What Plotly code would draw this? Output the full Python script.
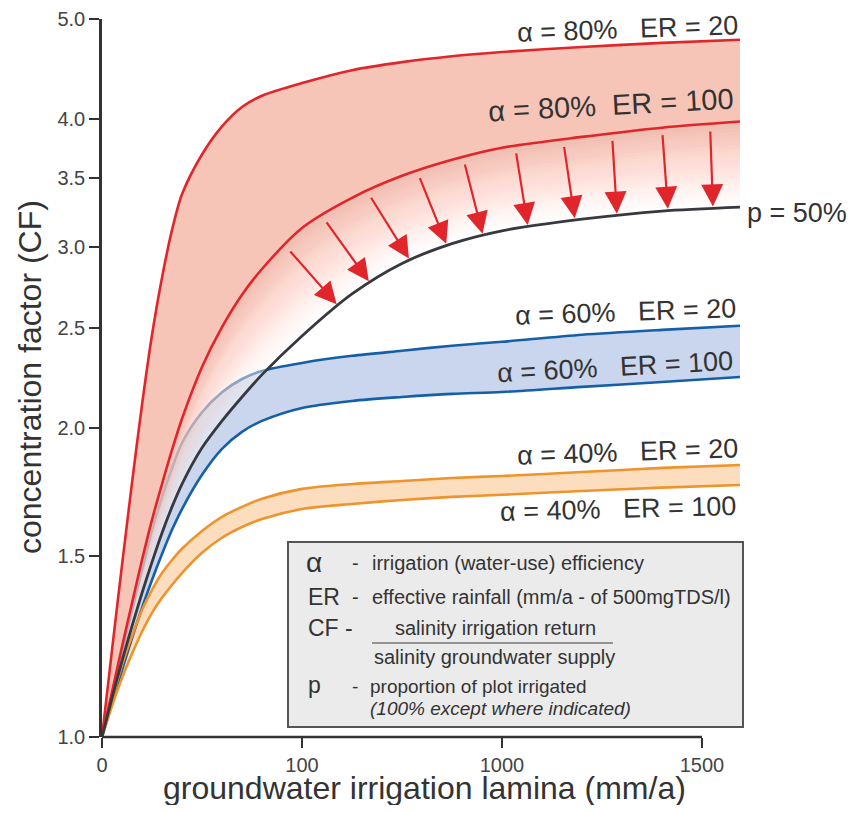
import numpy as np
import plotly.graph_objects as go

# ---------------- data ----------------
# Positions along the (non-uniform) irrigation-lamina axis, in tick-index units:
# 0 -> 0 mm/a, 1 -> 100 mm/a, 2 -> 1000 mm/a, 3 -> 1500 mm/a
X_POS = [0, 0.05, 0.1, 0.15, 0.2, 0.25, 0.3, 0.35, 0.4, 0.5, 0.6, 0.7, 0.8,
         1.0, 1.25, 1.5, 1.75, 2.0, 2.4, 2.8, 3.19]
X_TICK_POS = [0, 1, 2, 3]
X_TICK_TEXT = ["0", "100", "1000", "1500"]
Y_TICKS = [1.0, 1.5, 2.0, 2.5, 3.0, 3.5, 4.0, 5.0]
Y_TICK_TEXT = ["1.0", "1.5", "2.0", "2.5", "3.0", "3.5", "4.0", "5.0"]

# concentration factor (CF) curves
CF_A80_ER20 = [1.0, 1.215, 1.47, 1.767, 2.105, 2.462, 2.80, 3.115, 3.375, 3.69, 3.93,
               4.105, 4.21, 4.331, 4.458, 4.539, 4.60, 4.643, 4.696, 4.739, 4.772]
CF_A80_ER100 = [1.0, 1.106, 1.224, 1.35, 1.487, 1.627, 1.763, 1.903, 2.041, 2.292, 2.506,
                2.695, 2.855, 3.13, 3.349, 3.518, 3.647, 3.747, 3.839, 3.919, 3.973]
CF_P50 = [1.0, 1.091, 1.186, 1.282, 1.381, 1.48, 1.58, 1.675, 1.763, 1.912, 2.031,
          2.143, 2.253, 2.457, 2.70, 2.891, 3.022, 3.11, 3.192, 3.251, 3.28]
CF_A60_ER20 = [1.0, 1.099, 1.21, 1.329, 1.454, 1.591, 1.713, 1.828, 1.934, 2.071, 2.166,
               2.231, 2.272, 2.313, 2.35, 2.377, 2.404, 2.425, 2.464, 2.491, 2.514]
CF_A60_ER100 = [1.0, 1.079, 1.162, 1.248, 1.335, 1.422, 1.507, 1.591, 1.667, 1.80, 1.908,
                1.982, 2.031, 2.091, 2.124, 2.143, 2.158, 2.167, 2.192, 2.216, 2.241]
CF_A40_ER20 = [1.0, 1.087, 1.175, 1.254, 1.329, 1.391, 1.444, 1.487, 1.525, 1.587, 1.638,
               1.675, 1.706, 1.744, 1.763, 1.775, 1.787, 1.795, 1.811, 1.828, 1.84]
CF_A40_ER100 = [1.0, 1.072, 1.141, 1.205, 1.266, 1.321, 1.366, 1.406, 1.444, 1.511, 1.563,
                1.601, 1.63, 1.667, 1.686, 1.701, 1.713, 1.721, 1.736, 1.749, 1.759]

# arrows from the alpha 80% / ER 100 curve down to the p = 50% curve
ARROW_TAIL_X = [0.915, 1.10, 1.325, 1.575, 1.805, 2.065, 2.305, 2.55, 2.80, 3.04]
ARROW_TIP_X = [1.18, 1.34, 1.54, 1.725, 1.905, 2.13, 2.365, 2.575, 2.83, 3.055]

# ---------------- styling ----------------
PAGE_PAD = 8                      # default <body> margin of the written page
FIG_W, FIG_H = 860 - 2 * PAGE_PAD, 813 - 2 * PAGE_PAD
# plot area in screenshot pixels
L, R, T, B = 102, 760, 19, 737
FONT = "Liberation Sans, Arial, sans-serif"
TXT = "#333333"
RED = "#E0262B"
BLUE = "#155FA8"
ORANGE = "#EF942C"
DARK = "#38383F"
RED_FILL = "rgb(247,197,184)"
BLUE_FILL = "rgb(201,214,237)"
ORANGE_FILL = "rgb(252,221,190)"
SMOOTH = 0.8


def P(px, py):
    return (px - L) / (R - L), (B - py) / (B - T)


def ln(y, color=None, width=0.0, fill=None, fillcolor=None):
    kw = dict(x=X_POS, y=y, mode="lines", hoverinfo="skip", showlegend=False,
              line=dict(color=color or "rgba(0,0,0,0)", width=width,
                        shape="spline", smoothing=SMOOTH))
    if fill:
        kw["fill"] = fill
        kw["fillcolor"] = fillcolor
    return go.Scatter(**kw)


traces = []
# red band
traces += [ln(CF_A80_ER100), ln(CF_A80_ER20, fill="tonexty", fillcolor=RED_FILL)]
# orange band
traces += [ln(CF_A40_ER100), ln(CF_A40_ER20, fill="tonexty", fillcolor=ORANGE_FILL)]
# blue band
traces += [ln(CF_A60_ER100), ln(CF_A60_ER20, fill="tonexty", fillcolor=BLUE_FILL)]
traces += [ln(CF_A60_ER20, BLUE, 2.6), ln(CF_A60_ER100, BLUE, 2.6)]

# translucent pink gradient from the alpha=80%/ER=100 curve down to the p=50% curve
lr = np.log10(np.array(CF_A80_ER100))
lk = np.log10(np.array(CF_P50))


def blend(t):
    return list(10 ** ((1 - t) * lr + t * lk))


traces += [ln(CF_A80_ER100), ln(CF_P50, fill="tonexty", fillcolor="rgba(255,255,255,0.42)")]
N = 26


def opacity(t):
    return 0.95 * max(0.0, 1 - t) ** 1.15


Tm = [1 - opacity((j - 0.5) / N) for j in range(1, N + 1)] + [1.0]
for j in range(1, N + 1):
    a = 1 - Tm[j - 1] / Tm[j]
    traces += [ln(CF_A80_ER100),
               ln(blend(j / N), fill="tonexty", fillcolor="rgba(247,192,178,%.4f)" % a)]

traces += [ln(CF_A40_ER20, ORANGE, 2.6), ln(CF_A40_ER100, ORANGE, 2.6)]
traces += [ln(CF_A80_ER20, RED, 2.6), ln(CF_A80_ER100, RED, 2.6)]
traces += [ln(CF_P50, DARK, 2.8)]

fig = go.Figure(traces)

annotations = []
for xt, xh in zip(ARROW_TAIL_X, ARROW_TIP_X):
    yt = np.interp(xt, X_POS, lr)
    yh = np.interp(xh, X_POS, lk)
    annotations.append(dict(x=xh, y=yh, ax=xt, ay=yt, xref="x", yref="y",
                            axref="x", ayref="y", text="", showarrow=True,
                            arrowhead=2, arrowsize=2.0, arrowwidth=2.2,
                            arrowcolor=RED, standoff=2, startstandoff=6))


def label(text, px, py, size=27, angle=0, anchor="center", color=TXT, italic=False):
    x, y = P(px, py)
    if italic:
        text = "<i>" + text + "</i>"
    annotations.append(dict(x=x, y=y, xref="paper", yref="paper", text=text,
                            showarrow=False, xanchor=anchor, yanchor="middle",
                            textangle=angle,
                            font=dict(family=FONT, size=size, color=color)))


NB = "\u00a0"
label("α = 80%" + NB * 3 + "ER = 20", 627, 29, angle=-2)
label("α = 80%" + NB * 2 + "ER = 100", 611, 105, size=29, angle=-3)
label("p = 50%", 797, 213)
label("α = 60%" + NB * 3 + "ER = 20", 625, 312, angle=-2)
label("α = 60%" + NB * 3 + "ER = 100", 615, 367, angle=-3)
label("α = 40%" + NB * 3 + "ER = 20", 627, 452, angle=-2)
label("α = 40%" + NB * 3 + "ER = 100", 618, 509, angle=-1.5)

# legend box texts
label("α", 304, 562, size=28, anchor="left")
label("-", 350, 563, size=20, anchor="left")
label("irrigation (water-use) efficiency", 370, 563, size=20, anchor="left")
label("ER", 306, 597, size=23, anchor="left")
label("-", 350, 597, size=20, anchor="left")
label("effective rainfall (mm/a - of 500mgTDS/l)", 370, 597, size=20, anchor="left")
label("CF -", 306, 628, size=23, anchor="left")
label("salinity irrigation return", 393, 628, size=20, anchor="left")
label("salinity groundwater supply", 372, 657, size=20, anchor="left")
label("p", 306, 685, size=23, anchor="left")
label("-", 350, 686, size=19, anchor="left")
label("proportion of plot irrigated", 368, 686, size=19, anchor="left")
label("(100% except where indicated)", 368, 708, size=19, anchor="left", italic=True)

# axis titles
label("groundwater irrigation lamina (mm/a)", 424, 788, size=32)
label("concentration factor (CF)", 30, 377, size=32, angle=-90)

bx0, by0 = P(288, 727)
bx1, by1 = P(743, 542)
fx0, fy = P(372, 643)
fx1, _ = P(613, 643)
shapes = [
    dict(type="rect", xref="paper", yref="paper", x0=bx0, y0=by0, x1=bx1, y1=by1,
         fillcolor="#EBEBEB", line=dict(color="#555555", width=2), layer="above"),
    dict(type="line", xref="paper", yref="paper", x0=fx0, x1=fx1, y0=fy, y1=fy,
         line=dict(color="#777777", width=1.5), layer="above"),
    # x axis line stops at the last tick
    dict(type="line", xref="x", yref="paper", x0=0, x1=X_TICK_POS[-1], y0=0, y1=0,
         line=dict(color="#333333", width=2.5), layer="above"),
]

fig.update_layout(
    width=FIG_W, height=FIG_H,
    margin=dict(l=L - PAGE_PAD, r=PAGE_PAD + FIG_W - R, t=T - PAGE_PAD,
                b=PAGE_PAD + FIG_H - B, autoexpand=False),
    paper_bgcolor="white", plot_bgcolor="white",
    showlegend=False,
    annotations=annotations, shapes=shapes,
    font=dict(family=FONT, color=TXT),
    xaxis=dict(range=[0, 3.29], tickvals=X_TICK_POS, ticktext=X_TICK_TEXT,
               ticks="outside", ticklen=10, tickwidth=2, tickcolor="#333333",
               showline=False, showgrid=False, zeroline=False, automargin=False,
               tickfont=dict(family=FONT, size=20, color="#444444")),
    yaxis=dict(type="log", range=[0, np.log10(5.0)], tickvals=Y_TICKS, ticktext=Y_TICK_TEXT,
               ticks="outside", ticklen=10, tickwidth=2, tickcolor="#333333",
               showline=True, linewidth=2.5, linecolor="#333333", automargin=False,
               showgrid=False, zeroline=False,
               tickfont=dict(family=FONT, size=20, color="#444444")),
)

fig.write_html("out.html")
